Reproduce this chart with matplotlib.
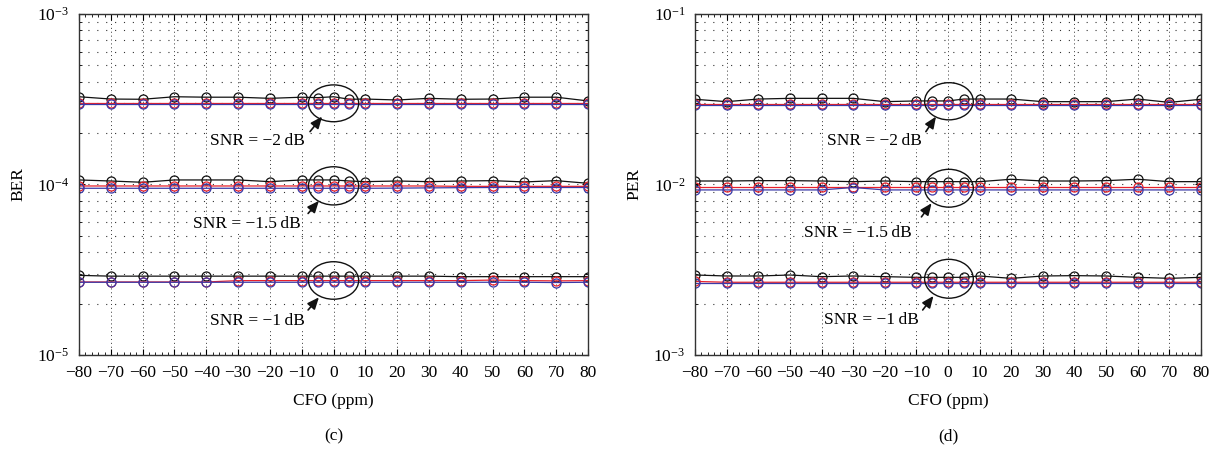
import matplotlib
matplotlib.use("Agg")
import matplotlib.pyplot as plt
import matplotlib.ticker as mticker
from matplotlib.patches import Ellipse
from matplotlib.transforms import blended_transform_factory

plt.rcParams['font.family'] = ['Liberation Serif', 'DejaVu Serif']
plt.rcParams['mathtext.fontset'] = 'stix'
plt.rcParams['axes.unicode_minus'] = True

cfo = [-80, -70, -60, -50, -40, -30, -20, -10, -5, 0, 5, 10, 20, 30, 40, 50, 60, 70, 80]

# BER panel (c)
ber_m2_black = [3.27e-4, 3.17e-4, 3.16e-4, 3.27e-4, 3.25e-4, 3.25e-4, 3.20e-4, 3.25e-4, 3.23e-4, 3.27e-4,
                3.16e-4, 3.17e-4, 3.13e-4, 3.20e-4, 3.16e-4, 3.17e-4, 3.25e-4, 3.25e-4, 3.09e-4]
ber_m2_red = [3.00e-4, 3.00e-4, 3.00e-4, 3.00e-4, 3.00e-4, 3.00e-4, 3.00e-4, 3.00e-4, 3.00e-4, 3.00e-4,
              3.00e-4, 3.00e-4, 3.00e-4, 3.00e-4, 3.00e-4, 3.00e-4, 3.00e-4, 3.00e-4, 3.00e-4]
ber_m2_blue = [2.96e-4, 2.96e-4, 2.96e-4, 2.96e-4, 2.96e-4, 2.96e-4, 2.96e-4, 2.96e-4, 2.96e-4, 2.96e-4,
               2.96e-4, 2.96e-4, 2.96e-4, 2.96e-4, 2.96e-4, 2.96e-4, 2.96e-4, 2.96e-4, 2.96e-4]
ber_m15_black = [1.063e-4, 1.048e-4, 1.030e-4, 1.063e-4, 1.063e-4, 1.063e-4, 1.039e-4, 1.063e-4, 1.063e-4, 1.063e-4,
                 1.048e-4, 1.039e-4, 1.048e-4, 1.039e-4, 1.048e-4, 1.053e-4, 1.035e-4, 1.053e-4, 1.016e-4]
ber_m15_red = [9.80e-5, 9.80e-5, 9.80e-5, 9.80e-5, 9.80e-5, 9.80e-5, 9.80e-5, 9.80e-5, 9.80e-5, 9.80e-5,
               9.80e-5, 9.80e-5, 9.80e-5, 9.80e-5, 9.75e-5, 9.75e-5, 9.75e-5, 9.75e-5, 9.75e-5]
ber_m15_blue = [9.50e-5, 9.50e-5, 9.50e-5, 9.50e-5, 9.50e-5, 9.50e-5, 9.50e-5, 9.50e-5, 9.50e-5, 9.50e-5,
                9.50e-5, 9.50e-5, 9.52e-5, 9.55e-5, 9.58e-5, 9.60e-5, 9.60e-5, 9.60e-5, 9.60e-5]
ber_m1_black = [2.93e-5, 2.90e-5, 2.90e-5, 2.90e-5, 2.90e-5, 2.90e-5, 2.90e-5, 2.90e-5, 2.90e-5, 2.90e-5,
                2.90e-5, 2.90e-5, 2.90e-5, 2.90e-5, 2.88e-5, 2.88e-5, 2.88e-5, 2.88e-5, 2.88e-5]
ber_m1_red = [2.68e-5, 2.68e-5, 2.68e-5, 2.68e-5, 2.68e-5, 2.73e-5, 2.73e-5, 2.73e-5, 2.73e-5, 2.73e-5,
              2.73e-5, 2.73e-5, 2.73e-5, 2.73e-5, 2.73e-5, 2.75e-5, 2.73e-5, 2.72e-5, 2.73e-5]
ber_m1_blue = [2.67e-5, 2.67e-5, 2.67e-5, 2.67e-5, 2.67e-5, 2.67e-5, 2.67e-5, 2.67e-5, 2.67e-5, 2.67e-5,
               2.67e-5, 2.67e-5, 2.67e-5, 2.67e-5, 2.67e-5, 2.67e-5, 2.67e-5, 2.66e-5, 2.67e-5]

# PER panel (d)
per_m2_black = [0.0316, 0.0306, 0.0317, 0.0320, 0.0320, 0.0320, 0.0306, 0.0309, 0.0309, 0.0309,
                0.0317, 0.0317, 0.0317, 0.0306, 0.0306, 0.0306, 0.0317, 0.0303, 0.0316]
per_m2_red = [0.0297, 0.0297, 0.0297, 0.0297, 0.0297, 0.0297, 0.0297, 0.0297, 0.0297, 0.0297,
              0.0297, 0.0297, 0.0297, 0.0297, 0.0297, 0.0297, 0.0297, 0.0297, 0.0297]
per_m2_blue = [0.0293, 0.0293, 0.0293, 0.0293, 0.0293, 0.0293, 0.0293, 0.0293, 0.0293, 0.0293,
               0.0293, 0.0293, 0.0293, 0.0293, 0.0293, 0.0293, 0.0293, 0.0293, 0.0293]
per_m15_black = [1.048e-2, 1.048e-2, 1.053e-2, 1.053e-2, 1.048e-2, 1.039e-2, 1.048e-2, 1.039e-2, 1.039e-2, 1.039e-2,
                 1.039e-2, 1.039e-2, 1.073e-2, 1.048e-2, 1.048e-2, 1.053e-2, 1.073e-2, 1.039e-2, 1.039e-2]
per_m15_red = [9.71e-3, 9.71e-3, 9.71e-3, 9.71e-3, 9.71e-3, 9.71e-3, 9.71e-3, 9.71e-3, 9.71e-3, 9.71e-3,
               9.71e-3, 9.71e-3, 9.71e-3, 9.71e-3, 9.71e-3, 9.71e-3, 9.71e-3, 9.71e-3, 9.71e-3]
per_m15_blue = [9.29e-3, 9.29e-3, 9.29e-3, 9.29e-3, 9.29e-3, 9.60e-3, 9.29e-3, 9.29e-3, 9.29e-3, 9.29e-3,
                9.29e-3, 9.29e-3, 9.29e-3, 9.29e-3, 9.29e-3, 9.29e-3, 9.29e-3, 9.29e-3, 9.29e-3]
per_m1_black = [2.945e-3, 2.906e-3, 2.906e-3, 2.945e-3, 2.880e-3, 2.906e-3, 2.880e-3, 2.854e-3, 2.854e-3, 2.854e-3,
                2.854e-3, 2.906e-3, 2.815e-3, 2.906e-3, 2.920e-3, 2.906e-3, 2.854e-3, 2.815e-3, 2.854e-3]
per_m1_red = [2.70e-3, 2.67e-3, 2.67e-3, 2.67e-3, 2.67e-3, 2.67e-3, 2.67e-3, 2.67e-3, 2.67e-3, 2.67e-3,
              2.67e-3, 2.67e-3, 2.67e-3, 2.67e-3, 2.67e-3, 2.67e-3, 2.67e-3, 2.67e-3, 2.67e-3]
per_m1_blue = [2.63e-3, 2.63e-3, 2.63e-3, 2.63e-3, 2.63e-3, 2.63e-3, 2.63e-3, 2.63e-3, 2.63e-3, 2.63e-3,
               2.63e-3, 2.63e-3, 2.63e-3, 2.63e-3, 2.63e-3, 2.63e-3, 2.63e-3, 2.63e-3, 2.63e-3]

xticks = [-80, -70, -60, -50, -40, -30, -20, -10, 0, 10, 20, 30, 40, 50, 60, 70, 80]
snr_labels = ["SNR = \u22122\u2009dB", "SNR = \u22121.5\u2009dB", "SNR = \u22121\u2009dB"]

BLACK = '#111111'
RED = '#e8202a'
BLUE = '#3a3aa8'

fig = plt.figure(figsize=(12.2, 4.55), dpi=100)
ax1 = fig.add_axes([0.0648, 0.2198, 0.4172, 0.7495])
ax2 = fig.add_axes([0.5697, 0.2198, 0.4147, 0.7495])

def style_axes(ax, ylim, ylabel, sub):
    ax.set_yscale('log')
    ax.set_xlim(-80, 80)
    ax.set_ylim(*ylim)
    ax.set_xticks(xticks)
    ax.set_xticklabels([("\u2212%d" % -v) if v < 0 else "%d" % v for v in xticks])
    ax.xaxis.set_minor_locator(mticker.MultipleLocator(2))
    ax.yaxis.set_major_locator(mticker.LogLocator(base=10, numticks=10))
    ax.yaxis.set_minor_locator(mticker.LogLocator(base=10, subs=range(2, 10), numticks=20))
    ax.yaxis.set_minor_formatter(mticker.NullFormatter())
    ax.tick_params(which='both', direction='in', top=True, right=True, labelsize=12.5)
    ax.tick_params(axis='x', which='major', pad=7)
    ax.tick_params(axis='y', which='major', pad=7)
    ax.tick_params(which='major', length=4, width=0.8)
    ax.tick_params(which='minor', length=2, width=0.6)
    ax.grid(True, which='major', axis='x', linestyle=(0, (1, 3)), color='#333333', linewidth=0.7)
    ax.grid(True, which='major', axis='y', linestyle=(0, (1, 7)), color='#333333', linewidth=0.8)
    ax.grid(True, which='minor', axis='y', linestyle=(0, (1, 7)), color='#333333', linewidth=0.8)
    for s in ax.spines.values():
        s.set_linewidth(1.0)
        s.set_color('#333333')
    ax.set_xlabel("CFO (ppm)", fontsize=12.5, labelpad=9)
    ax.set_ylabel(ylabel, fontsize=12.5, labelpad=8)
    ax.text(0.5, -0.24, sub, transform=ax.transAxes, ha='center', va='center', fontsize=12.5)

def plot_group(ax, blk, red, blu):
    kw = dict(marker='o', markerfacecolor='none', markersize=6.5, linewidth=0.9, markeredgewidth=0.9)
    ax.plot(cfo, blk, color=BLACK, **kw)
    ax.plot(cfo, red, color=RED, **kw)
    ax.plot(cfo, blu, color=BLUE, **kw)

style_axes(ax1, (1e-5, 1e-3), "BER", "(c)")
style_axes(ax2, (1e-3, 1e-1), "PER", "(d)")

plot_group(ax1, ber_m2_black, ber_m2_red, ber_m2_blue)
plot_group(ax1, ber_m15_black, ber_m15_red, ber_m15_blue)
plot_group(ax1, ber_m1_black, ber_m1_red, ber_m1_blue)

plot_group(ax2, per_m2_black, per_m2_red, per_m2_blue)
plot_group(ax2, per_m15_black, per_m15_red, per_m15_blue)
plot_group(ax2, per_m1_black, per_m1_red, per_m1_blue)

# annotations: (ellipse center y, ellipse h, text x, text y, arrow head (x,y), arrow tail (x,y))
ann_c = [
    (0.738, 0.108, -24.0, 0.628, (-3.6, 0.699), (-7.4, 0.655)),
    (0.496, 0.112, -27.2, 0.384, (-4.6, 0.452), (-8.0, 0.415)),
    (0.2185, 0.110, -24.0, 0.101, (-4.6, 0.169), (-8.0, 0.132)),
]
ann_d = [
    (0.744, 0.109, -23.3, 0.6285, (-3.8, 0.699), (-7.0, 0.655)),
    (0.489, 0.111, -28.4, 0.357, (-5.2, 0.445), (-8.4, 0.405)),
    (0.2235, 0.114, -24.1, 0.1026, (-4.6, 0.173), (-8.0, 0.132)),
]

for ax, anns, ecx, ew in ((ax1, ann_c, 0.0, 15.8), (ax2, ann_d, 0.3, 15.4)):
    tr = blended_transform_factory(ax.transData, ax.transAxes)
    for (cy, h, tx, ty, head, tail), lab in zip(anns, snr_labels):
        ax.add_patch(Ellipse((ecx, cy), ew, h, transform=tr, fill=False,
                             edgecolor=BLACK, linewidth=1.0, zorder=5))
        ax.annotate("", xy=head, xycoords=tr, xytext=tail, textcoords=tr,
                    arrowprops=dict(arrowstyle='-|>,head_length=0.7,head_width=0.3',
                                    color=BLACK, linewidth=1.2, shrinkA=0, shrinkB=0),
                    zorder=6)
        ax.text(tx, ty, lab, transform=tr, ha='center', va='center', fontsize=12.5,
                family=['Liberation Serif', 'DejaVu Serif'],
                bbox=dict(facecolor='white', edgecolor='none', pad=0.5), zorder=6)

fig.savefig("out.png", dpi=100)
